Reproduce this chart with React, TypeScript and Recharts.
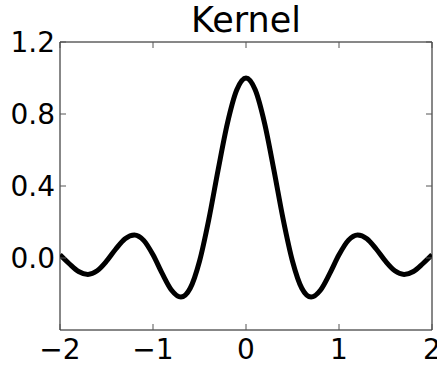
import { LineChart, Line, XAxis, YAxis } from "recharts";

const xValues = [
  -2.0, -1.9, -1.8, -1.7, -1.6, -1.5, -1.4, -1.3, -1.2, -1.1, -1.0,
  -0.9, -0.8, -0.7, -0.6, -0.5, -0.4, -0.3, -0.2, -0.1, 0.0,
  0.1, 0.2, 0.3, 0.4, 0.5, 0.6, 0.7, 0.8, 0.9, 1.0,
  1.1, 1.2, 1.3, 1.4, 1.5, 1.6, 1.7, 1.8, 1.9, 2.0,
];
const kernelValues = [
  0.018, -0.032, -0.075, -0.091, -0.071, -0.018, 0.05, 0.107, 0.128, 0.098, 0.018,
  -0.087, -0.179, -0.217, -0.168, -0.018, 0.214, 0.489, 0.748, 0.933, 1.0,
  0.933, 0.748, 0.489, 0.214, -0.018, -0.168, -0.217, -0.179, -0.087, 0.018,
  0.098, 0.128, 0.107, 0.05, -0.018, -0.071, -0.091, -0.075, -0.032, 0.018,
];
const xTicks = [-2, -1, 0, 1, 2];
const yTicks = [0, 0.4, 0.8, 1.2];
const title = "Kernel";

const data = xValues.map((x, i) => ({ x, k: kernelValues[i] }));

const FONT = "'DejaVu Sans', sans-serif";
const TICK_COLOR = "#555";
const fmtX = (v: number) => (v < 0 ? "\u2212" + Math.abs(v) : String(v));

const BottomTick = ({ x, y, payload }: any) => (
  <g>
    <line x1={x} y1={y} x2={x} y2={y - 6} stroke={TICK_COLOR} strokeWidth={1} />
    <text x={x} y={y + 29} textAnchor="middle" fontSize={28} fontFamily={FONT} fill="#000">
      {fmtX(payload.value)}
    </text>
  </g>
);

const TopTick = ({ x, y }: any) => (
  <line x1={x} y1={y} x2={x} y2={y + 6} stroke={TICK_COLOR} strokeWidth={1} />
);

const LeftTick = ({ x, y, payload }: any) => (
  <g>
    <line x1={x} y1={y} x2={x + 6} y2={y} stroke={TICK_COLOR} strokeWidth={1} />
    <text x={x - 5} y={y + 10} textAnchor="end" fontSize={28} fontFamily={FONT} fill="#000">
      {payload.value.toFixed(1)}
    </text>
  </g>
);

const RightTick = ({ x, y }: any) => (
  <line x1={x} y1={y} x2={x - 6} y2={y} stroke={TICK_COLOR} strokeWidth={1} />
);

export default function App() {
  return (
    <div style={{ position: "absolute", left: 0, top: 0, width: 437, height: 369, background: "#fff" }}>
      <div
        style={{
          position: "absolute",
          left: 60,
          width: 372,
          top: 0,
          textAlign: "center",
          fontFamily: FONT,
          fontSize: 35,
          lineHeight: "41px",
          color: "#000",
        }}
      >
        {title}
      </div>
      <LineChart width={437} height={369} data={data} margin={{ top: 41, right: 4, bottom: 0, left: 0 }}>
        <XAxis
          xAxisId="b"
          dataKey="x"
          type="number"
          domain={[-2, 2]}
          ticks={xTicks}
          allowDataOverflow
          height={39}
          tickSize={0}
          tickMargin={0}
          tickLine={false}
          axisLine={{ stroke: "#111", strokeWidth: 1 }}
          tick={BottomTick}
          interval={0}
        />
        <XAxis
          xAxisId="t"
          orientation="top"
          dataKey="x"
          type="number"
          domain={[-2, 2]}
          ticks={xTicks}
          allowDataOverflow
          height={1}
          tickSize={0}
          tickMargin={0}
          tickLine={false}
          axisLine={{ stroke: "#111", strokeWidth: 1 }}
          tick={TopTick}
          interval={0}
        />
        <YAxis
          yAxisId="l"
          type="number"
          domain={[-0.4, 1.2]}
          ticks={yTicks}
          allowDataOverflow
          width={60}
          tickSize={0}
          tickMargin={0}
          tickLine={false}
          axisLine={{ stroke: "#111", strokeWidth: 1 }}
          tick={LeftTick}
          interval={0}
        />
        <YAxis
          yAxisId="r"
          orientation="right"
          type="number"
          domain={[-0.4, 1.2]}
          ticks={yTicks}
          allowDataOverflow
          width={1}
          tickSize={0}
          tickMargin={0}
          tickLine={false}
          axisLine={{ stroke: "#111", strokeWidth: 1 }}
          tick={RightTick}
          interval={0}
        />
        {/* invisible series so the top and right axes get drawn */}
        <Line
          xAxisId="t"
          yAxisId="r"
          dataKey="k"
          stroke="none"
          strokeWidth={0}
          dot={false}
          activeDot={false}
          legendType="none"
          isAnimationActive={false}
        />
        <Line
          xAxisId="b"
          yAxisId="l"
          type="monotone"
          dataKey="k"
          stroke="#000"
          strokeWidth={5}
          dot={false}
          strokeLinejoin="round"
          isAnimationActive={false}
        />
      </LineChart>
    </div>
  );
}
